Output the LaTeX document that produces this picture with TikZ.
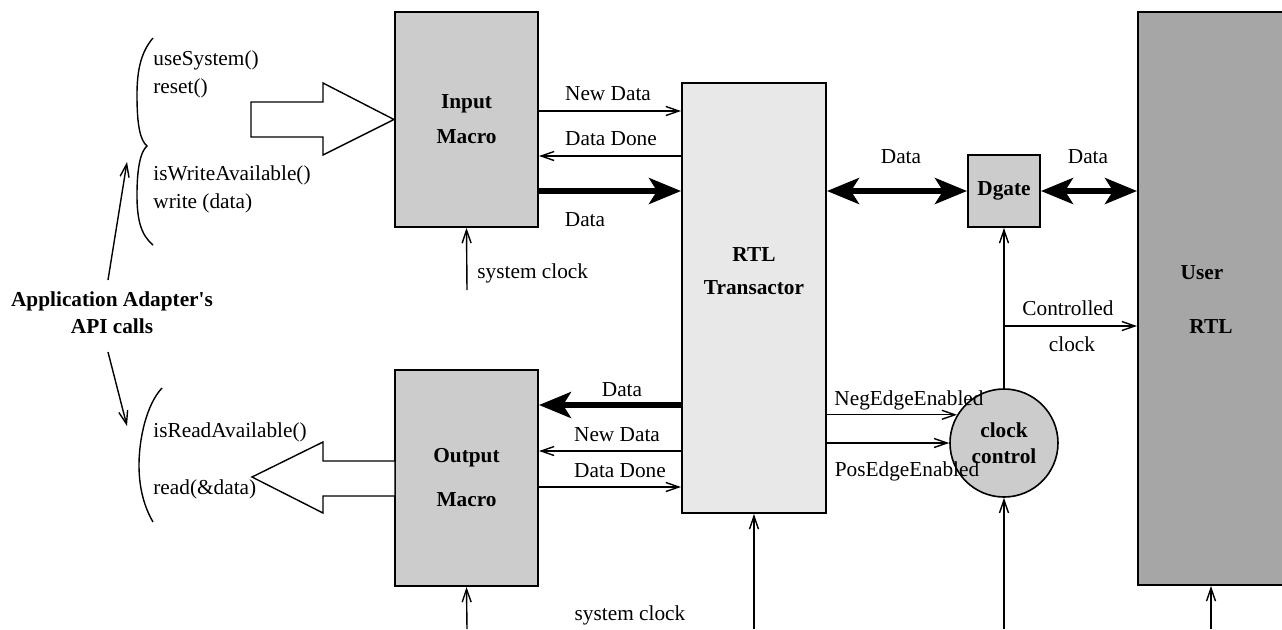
\documentclass[tikz,border=0pt]{standalone}
\usepackage{fontspec}
\setmainfont{Liberation Serif}
\usepackage{xcolor}
\usetikzlibrary{arrows.meta,positioning}
\tikzset{>={Straight Barb[length=6.5pt,width=4.5pt]}}
\definecolor{macrogray}{gray}{0.80}
\definecolor{xactgray}{gray}{0.91}
\definecolor{usergray}{gray}{0.65}

\begin{document}
\begin{tikzpicture}[x=0.5pt,y=-0.5pt,
                    every node/.style={font=\fontsize{10.65}{13}\selectfont, inner sep=0pt},
                    macro/.style={draw, line width=1pt, fill=macrogray, minimum width=71.5pt, minimum height=107.5pt, align=center, font=\fontsize{10.65}{17.5}\selectfont\bfseries},
                    xactor/.style={draw, line width=1pt, fill=xactgray, minimum width=72pt, minimum height=215pt},
                    userbox/.style={draw, line width=1pt, fill=usergray, minimum width=76pt, minimum height=286.5pt},
                    gatebox/.style={draw, line width=1pt, fill=macrogray, minimum size=36pt, font=\fontsize{10.65}{13}\selectfont\bfseries},
                    ctlcircle/.style={draw, circle, line width=0.8pt, fill=macrogray, minimum size=54pt, align=center, font=\fontsize{10.65}{13}\selectfont\bfseries},
                    title/.style={align=center, font=\fontsize{10.65}{16.5}\selectfont\bfseries},
                    lbl/.style={text height=1.5ex, text depth=.25ex},
                    sig/.style={->, line width=0.7pt},
                    bus/.style={-{Stealth[length=16pt,width=13pt,inset=4pt]}, line width=2.6pt},
                    dbus/.style={{Stealth[length=16pt,width=13pt,inset=4pt]}-{Stealth[length=16pt,width=13pt,inset=4pt]}, line width=2.6pt},
                    hollow/.style={line width=0.7pt, fill=white},
                   ]

\useasboundingbox (0,0) rectangle (1282,629);

% blocks
\node[macro] (inmacro) at (466.5,119.5) {Input\\Macro};
\node[macro, minimum height=108pt, font=\fontsize{10.65}{22}\selectfont\bfseries] (outmacro) at (466.5,478) {Output\\Macro};
\node[xactor] (rtl) at (754,298) {};
\node[title, yshift=13.25pt] (rtltext) at (rtl.center) {RTL\\Transactor};
\node[gatebox] (dgate) at (1004,191) {Dgate};
\node[ctlcircle] (clkctl) at (1004,443) {clock\\control};
\node[userbox] (user) at (1214,298.5) {};
\node[title] (usertext) at (1202,273) {User};
\node[title] (userrtl) at (1211,327) {RTL};

% API side
\node[title, font=\fontsize{10.65}{13.5}\selectfont\bfseries] (api) at (112,313) {Application Adapter\textquotesingle s\\API calls};
\node[lbl, anchor=west] (usesys) at (153,60) {useSystem()};
\node[lbl, anchor=west] (resetc) at (153,88) {reset()};
\node[lbl, anchor=west] (iswrite) at (153,175) {isWriteAvailable()};
\node[lbl, anchor=west] (writec) at (153,203) {write (data)};
\node[lbl, anchor=west] (isread) at (153,432) {isReadAvailable()};
\node[lbl, anchor=west] (readc) at (153,489) {read(\&data)};

\draw[line width=0.7pt] (153,38) .. controls (141,52) and (137,70) .. (137,95)
      .. controls (137,125) and (140,140) .. (147,146)
      .. controls (140,152) and (137,170) .. (137,195)
      .. controls (137,220) and (141,235) .. (153,245);
\draw[line width=0.7pt] (162,388) .. controls (146,405) and (139,440) .. (139,465)
      .. controls (139,490) and (145,508) .. (153,522);

\coordinate (apiup) at (108,280);
\coordinate (apidown) at (108,352);
\coordinate (bracetop) at (127,162);
\coordinate (bracebot) at (127,426);
\draw[sig] (apiup) -- (bracetop);
\draw[sig] (apidown) -- (bracebot);

% big hollow arrows
\draw[hollow] (inmacro.west) -- (323,83) -- (323,102) -- (251,102) -- (251,137) -- (323,137) -- (323,155) -- cycle;
\draw[hollow] (252,477) -- (323,442) -- (323,461) -- (395,461) -- (395,496) -- (323,496) -- (323,513) -- cycle;

% input macro <-> transactor
\draw[sig] (inmacro.east |- 0,111) -- (rtl.west |- 0,111);
\draw[sig] (rtl.west |- 0,156) -- (inmacro.east |- 0,156);
\draw[bus] (inmacro.east |- 0,191) -- (rtl.west |- 0,191);
\node[lbl] (nd1) at (608,95) {New Data};
\node[lbl] (dd1) at (611,140) {Data Done};
\node[lbl] (da1) at (585,221) {Data};

% transactor <-> output macro
\draw[bus] (rtl.west |- 0,405) -- (outmacro.east |- 0,405);
\draw[sig] (rtl.west |- 0,451) -- (outmacro.east |- 0,451);
\draw[sig] (outmacro.east |- 0,487) -- (rtl.west |- 0,487);
\node[lbl] (da2) at (622,391) {Data};
\node[lbl] (nd2) at (617,436) {New Data};
\node[lbl] (dd2) at (620,472) {Data Done};

% system clocks
\coordinate (sclk1) at (467,290);
\coordinate (sclk2) at (467,629);
\coordinate (sclk3) at (754,629);
\coordinate (sclk4) at (1004,629);
\coordinate (sclk5) at (1211,629);
\draw[sig] (sclk1) -- (inmacro.south);
\draw[sig] (sclk2) -- (outmacro.south);
\draw[sig] (sclk3) -- (rtl.south);
\draw[sig] (sclk4) -- (clkctl.south);
\draw[sig] (sclk5) -- (sclk5 |- user.south);
\node[lbl, anchor=west] (sc1lbl) at (477,273) {system clock};
\node[lbl] (sc2lbl) at (630,615) {system clock};

% data path to user RTL
\draw[dbus] (rtl.east |- dgate.west) -- (dgate.west);
\draw[dbus] (dgate.east) -- (user.west |- dgate.east);
\node[lbl] (da3) at (901,158) {Data};
\node[lbl] (da4) at (1088,158) {Data};

% clock control
\draw[sig] (rtl.east |- clkctl.149) -- (clkctl.149);
\draw[sig] (rtl.east |- clkctl.west) -- (clkctl.west);
\node[lbl] (neglbl) at (909,400) {NegEdgeEnabled};
\node[lbl] (poslbl) at (907,471) {PosEdgeEnabled};
\draw[sig] (clkctl.north) -- (dgate.south);
\draw[sig] (clkctl.north |- 0,326) -- (user.west |- 0,326);
\node[lbl] (ctllbl) at (1068,310) {Controlled};
\node[lbl] (clklbl) at (1072,346) {clock};

\end{tikzpicture}
\end{document}
